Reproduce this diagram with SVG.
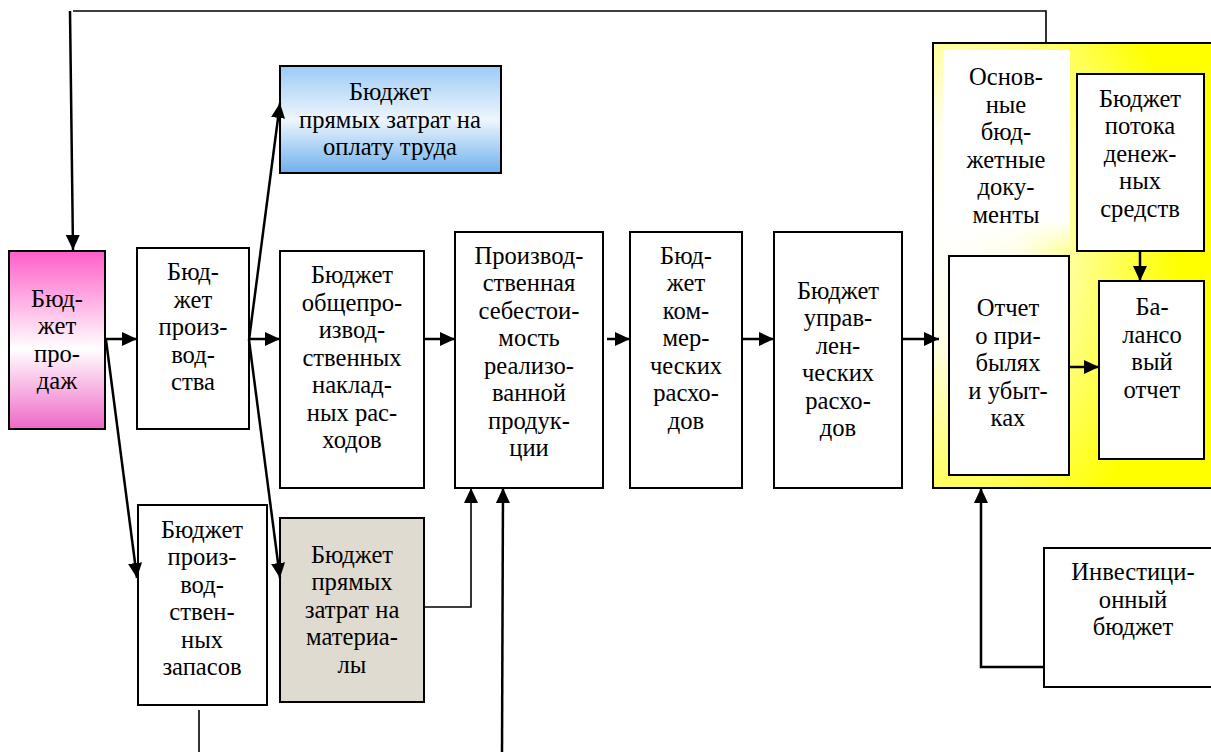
<svg xmlns="http://www.w3.org/2000/svg" width="1211" height="752" viewBox="0 0 1211 752">
<defs>
<linearGradient id="gPink" x1="0" y1="0" x2="0" y2="1">
<stop offset="0" stop-color="#ff5ec9"/><stop offset="0.55" stop-color="#ffffff"/><stop offset="1" stop-color="#ef68c6"/>
</linearGradient>
<linearGradient id="gBlue" x1="0" y1="0" x2="0" y2="1">
<stop offset="0" stop-color="#9ccaf6"/><stop offset="0.5" stop-color="#eef6fd"/><stop offset="1" stop-color="#6eb0ee"/>
</linearGradient>
<radialGradient id="gYellow" cx="0.05" cy="0.42" r="0.8">
<stop offset="0" stop-color="#ffffff"/><stop offset="0.3" stop-color="#ffffea"/><stop offset="1" stop-color="#ffff00"/>
</radialGradient>
<linearGradient id="gWhite" x1="0" y1="0" x2="0" y2="1">
<stop offset="0" stop-color="#ffffff"/><stop offset="0.85" stop-color="#ffffff"/><stop offset="1" stop-color="#ffffff" stop-opacity="0"/>
</linearGradient>
<marker id="ah" markerUnits="userSpaceOnUse" markerWidth="15" markerHeight="14" viewBox="0 0 15 14" refX="15" refY="7" orient="auto">
<path d="M0,0 L15,7 L0,14 Z" fill="#000"/>
</marker>
</defs>
<style>
.box{stroke:#000;stroke-width:2;fill:#fff}
text{font-family:"Liberation Serif","Times New Roman",serif;font-size:24.6px;fill:#000;text-anchor:middle}
.c{fill:none;stroke:#000;stroke-width:2.5}
.a{marker-end:url(#ah)}
.thin{fill:none;stroke:#000;stroke-width:1.6}
</style>
<rect width="1211" height="752" fill="#fff"/>

<g id="main-docs">
<rect x="933" y="43" width="290" height="445" fill="url(#gYellow)" stroke="#000" stroke-width="2"/>
<rect x="943" y="50" width="127" height="200" fill="url(#gWhite)"/>
<text><tspan x="1006" y="85">Основ-</tspan><tspan x="1006" y="112.5">ные</tspan><tspan x="1006" y="140">бюд-</tspan><tspan x="1006" y="167.5">жетные</tspan><tspan x="1006" y="195">доку-</tspan><tspan x="1006" y="222.5">менты</tspan></text>
</g>

<g id="sales">
<rect x="9" y="251" width="96" height="178" stroke="#000" stroke-width="2" fill="url(#gPink)"/>
<text><tspan x="57" y="306.5">Бюд-</tspan><tspan x="57" y="334">жет</tspan><tspan x="57" y="361.5">про-</tspan><tspan x="57" y="389">даж</tspan></text>
</g>

<g id="production">
<rect class="box" x="137" y="248" width="112" height="181"/>
<text><tspan x="193" y="280">Бюд-</tspan><tspan x="193" y="307.5">жет</tspan><tspan x="193" y="335">произ-</tspan><tspan x="193" y="362.5">вод-</tspan><tspan x="193" y="390">ства</tspan></text>
</g>

<g id="labor">
<rect x="280" y="66" width="221" height="107" stroke="#000" stroke-width="2" fill="url(#gBlue)"/>
<text><tspan x="390" y="100">Бюджет</tspan><tspan x="390" y="127.5">прямых затрат на</tspan><tspan x="390" y="155">оплату труда</tspan></text>
</g>

<g id="overhead">
<rect class="box" x="280" y="251" width="144" height="237"/>
<text><tspan x="352" y="283">Бюджет</tspan><tspan x="352" y="310.5">общепро-</tspan><tspan x="352" y="338">извод-</tspan><tspan x="352" y="365.5">ственных</tspan><tspan x="352" y="393">наклад-</tspan><tspan x="352" y="420.5">ных рас-</tspan><tspan x="352" y="448">ходов</tspan></text>
</g>

<g id="inventory">
<rect class="box" x="138" y="505" width="129" height="200"/>
<text><tspan x="202" y="537.5">Бюджет</tspan><tspan x="202" y="565">произ-</tspan><tspan x="202" y="592.5">вод-</tspan><tspan x="202" y="620">ствен-</tspan><tspan x="202" y="647.5">ных</tspan><tspan x="202" y="675">запасов</tspan></text>
</g>

<g id="materials">
<rect x="280" y="518" width="144" height="184" stroke="#000" stroke-width="2" fill="#e0dbd0"/>
<text><tspan x="352" y="562.5">Бюджет</tspan><tspan x="352" y="590">прямых</tspan><tspan x="352" y="617.5">затрат на</tspan><tspan x="352" y="645">материа-</tspan><tspan x="352" y="672.5">лы</tspan></text>
</g>

<g id="cost">
<rect class="box" x="455" y="232" width="148" height="256"/>
<text><tspan x="529" y="263.5">Производ-</tspan><tspan x="529" y="291">ственная</tspan><tspan x="529" y="318.5">себестои-</tspan><tspan x="529" y="346">мость</tspan><tspan x="529" y="373.5">реализо-</tspan><tspan x="529" y="401">ванной</tspan><tspan x="529" y="428.5">продук-</tspan><tspan x="529" y="456">ции</tspan></text>
</g>

<g id="selling">
<rect class="box" x="630" y="232" width="112" height="256"/>
<text><tspan x="686" y="263.5">Бюд-</tspan><tspan x="686" y="291">жет</tspan><tspan x="686" y="318.5">ком-</tspan><tspan x="686" y="346">мер-</tspan><tspan x="686" y="373.5">ческих</tspan><tspan x="686" y="401">расхо-</tspan><tspan x="686" y="428.5">дов</tspan></text>
</g>

<g id="admin">
<rect class="box" x="774" y="232" width="128" height="256"/>
<text><tspan x="838" y="298.5">Бюджет</tspan><tspan x="838" y="326">управ-</tspan><tspan x="838" y="353.5">лен-</tspan><tspan x="838" y="381">ческих</tspan><tspan x="838" y="408.5">расхо-</tspan><tspan x="838" y="436">дов</tspan></text>
</g>

<g id="cashflow">
<rect class="box" x="1077" y="74" width="127" height="177"/>
<text><tspan x="1140" y="106.5">Бюджет</tspan><tspan x="1140" y="134">потока</tspan><tspan x="1140" y="161.5">денеж-</tspan><tspan x="1140" y="189">ных</tspan><tspan x="1140" y="216.5">средств</tspan></text>
</g>

<g id="income">
<rect class="box" x="949" y="256" width="120" height="219"/>
<text><tspan x="1008" y="316">Отчет</tspan><tspan x="1008" y="343.5">о при-</tspan><tspan x="1008" y="371">былях</tspan><tspan x="1008" y="398.5">и убыт-</tspan><tspan x="1008" y="426">ках</tspan></text>
</g>

<g id="balance">
<rect class="box" x="1099" y="281" width="105" height="178"/>
<text><tspan x="1152" y="315">Ба-</tspan><tspan x="1152" y="342.5">лансо</tspan><tspan x="1152" y="370">вый</tspan><tspan x="1152" y="397.5">отчет</tspan></text>
</g>

<g id="investment">
<rect class="box" x="1044" y="548" width="180" height="139"/>
<text><tspan x="1133" y="580">Инвестици-</tspan><tspan x="1133" y="607.5">онный</tspan><tspan x="1133" y="635">бюджет</tspan></text>
</g>

<g id="connectors">
<path class="thin" d="M73,11 H1046 V43"/>
<path class="c a" d="M70,11 L73,250"/>
<path class="c a" d="M105,339 H137"/>
<path class="c a" d="M106,340 L137,578"/>
<path class="c a" d="M249,340 L280,103"/>
<path class="c a" d="M249,339 H280"/>
<path class="c a" d="M249,340 L280,578"/>
<path class="c a" d="M424,339 H455"/>
<path class="c a" d="M607,339 H630"/>
<path class="c a" d="M742,339 H774"/>
<path class="c a" d="M902,339 H939"/>
<path class="thin a" d="M424,607 H471 V488"/>
<path class="c a" d="M502,752 L503,488"/>
<path class="thin" d="M199,710 V752"/>
<path class="c a" d="M1140,251 V281"/>
<path class="c a" d="M1069,367 H1099"/>
<path class="c a" d="M1044,667 H981 V488"/>
</g>
</svg>
